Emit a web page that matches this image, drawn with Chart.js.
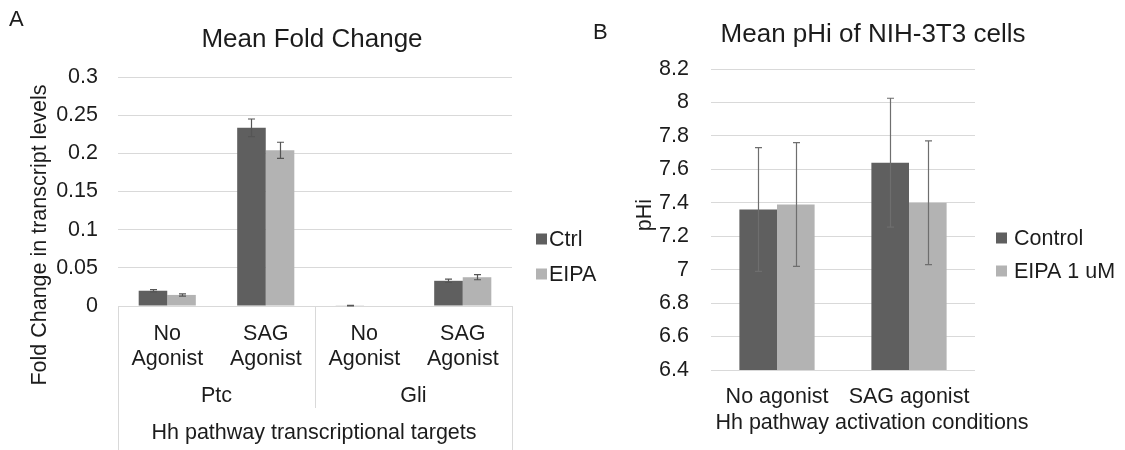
<!DOCTYPE html>
<html>
<head>
<meta charset="utf-8">
<script src="https://cdn.jsdelivr.net/npm/chart.js@4"></script>
<style>
  html, body { margin: 0; padding: 0; background: #fff; }
  #wrap { position: relative; width: 1125px; height: 450px; overflow: hidden; }
  canvas { position: absolute; top: 0; }
  #chartA { left: 0; }
  #chartB { left: 580px; }
</style>
</head>
<body>
<div id="wrap">
  <canvas id="chartA" width="600" height="450"></canvas>
  <canvas id="chartB" width="545" height="450"></canvas>
</div>
<script>
// ---- panel A data ----
const catsA = [['No', 'Agonist'], ['SAG', 'Agonist'], ['No', 'Agonist'], ['SAG', 'Agonist']];
const groupsA = ['Ptc', 'Gli'];
const ctrlA = [0.020, 0.2335, 0.0005, 0.033];
const ctrlErrA = [0.0015, 0.0115, 0.0003, 0.0022];
const eipaA = [0.0145, 0.204, 0, 0.0377];
const eipaErrA = [0.0015, 0.0105, 0, 0.0033];
const yTicksA = ['0', '0.05', '0.1', '0.15', '0.2', '0.25', '0.3'];

// ---- panel B data ----
const catsB = ['No agonist', 'SAG agonist'];
const ctrlB = [7.36, 7.64];
const ctrlErrB = [0.37, 0.385];
const eipaB = [7.39, 7.40];
const eipaErrB = [0.37, 0.37];
const yTicksB = ['6.4', '6.6', '6.8', '7', '7.2', '7.4', '7.6', '7.8', '8', '8.2'];

const FONT = '"Liberation Sans", Arial, Helvetica, sans-serif';
const TEXT = '#1c1c1c';
const DARK = '#5f5f5f';
const LIGHT = '#b3b3b3';
const GRID = '#d9d9d9';

Chart.defaults.font.family = FONT;
Chart.defaults.color = TEXT;

// error bars drawn from dataset.errors through the y scale
const errorBars = {
  id: 'errorBars',
  afterDatasetsDraw(chart, args, opts) {
    const ctx = chart.ctx;
    const y = chart.scales.y;
    ctx.save();
    ctx.strokeStyle = opts.color || '#666';
    ctx.lineWidth = opts.width || 1;
    chart.data.datasets.forEach((ds, di) => {
      const meta = chart.getDatasetMeta(di);
      meta.data.forEach((bar, i) => {
        const e = ds.errors[i];
        if (!e) return;
        const v = ds.data[i];
        const top = y.getPixelForValue(v + e);
        const bot = y.getPixelForValue(v - e);
        const x = Math.round(bar.x) + 0.5;
        ctx.beginPath();
        ctx.moveTo(x, top); ctx.lineTo(x, bot);
        ctx.moveTo(x - 3.5, top); ctx.lineTo(x + 3.5, top);
        ctx.moveTo(x - 3.5, bot); ctx.lineTo(x + 3.5, bot);
        ctx.stroke();
      });
    });
    ctx.restore();
  }
};

// titles, panel letter, axis titles and legend
const decor = {
  id: 'decor',
  afterDraw(chart, args, o) {
    const ctx = chart.ctx;
    ctx.save();
    ctx.fillStyle = TEXT;
    ctx.textBaseline = 'middle';
    ctx.font = '22px ' + FONT;
    ctx.textAlign = 'left';
    ctx.fillText(o.letter, o.letterX, o.letterY);
    ctx.font = '26px ' + FONT;
    ctx.textAlign = 'center';
    ctx.fillText(o.title, o.titleX, o.titleY);
    ctx.font = '21.5px ' + FONT;
    ctx.fillText(o.xTitle, o.xTitleX, o.xTitleY);
    ctx.save();
    ctx.translate(o.yTitleX, o.yTitleY);
    ctx.rotate(-Math.PI / 2);
    ctx.fillText(o.yTitle, 0, 0);
    ctx.restore();
    // legend
    ctx.textAlign = 'left';
    chart.data.datasets.forEach((ds, i) => {
      const cy = o.legendY + i * o.legendGap;
      ctx.fillStyle = ds.backgroundColor;
      ctx.fillRect(o.legendX, cy - 5.5, 11, 11);
      ctx.fillStyle = TEXT;
      ctx.fillText(ds.label, o.legendX + o.legendText, cy + 1);
    });
    ctx.restore();
  }
};

// second-level category labels and separators for panel A
const groupAxis = {
  id: 'groupAxis',
  afterDraw(chart) {
    const ctx = chart.ctx;
    const x = chart.scales.x;
    const area = chart.chartArea;
    const per = catsA.length / groupsA.length;
    ctx.save();
    ctx.strokeStyle = GRID;
    ctx.lineWidth = 1;
    const line = (px, y1, y2) => {
      ctx.beginPath();
      ctx.moveTo(Math.round(px) + 0.5, y1);
      ctx.lineTo(Math.round(px) + 0.5, y2);
      ctx.stroke();
    };
    line(area.left, area.bottom, 450);
    line(area.right, area.bottom, 450);
    ctx.fillStyle = TEXT;
    ctx.font = '21.5px ' + FONT;
    ctx.textAlign = 'center';
    ctx.textBaseline = 'middle';
    groupsA.forEach((g, gi) => {
      const first = gi * per;
      const last = first + per - 1;
      const l = first === 0 ? area.left : (x.getPixelForValue(first - 1) + x.getPixelForValue(first)) / 2;
      const r = last === catsA.length - 1 ? area.right : (x.getPixelForValue(last) + x.getPixelForValue(last + 1)) / 2;
      if (gi > 0) line(l, area.bottom, 408);
      ctx.fillText(g, (l + r) / 2, 396);
    });
    ctx.restore();
  }
};

function makeOptions(cfg) {
  return {
    responsive: false,
    animation: false,
    devicePixelRatio: 1,
    layout: { padding: { top: cfg.top, right: cfg.right, left: 0, bottom: 0 } },
    plugins: {
      legend: { display: false },
      title: { display: false },
      tooltip: { enabled: false },
      errorBars: { color: cfg.errColor, width: 1.2 },
      decor: cfg.decor
    },
    scales: {
      x: {
        grid: { display: false },
        border: { display: false },
        ticks: {
          font: { size: 21.5, lineHeight: cfg.lineHeight },
          color: TEXT,
          padding: cfg.xPad,
          maxRotation: 0,
          autoSkip: false
        },
        afterFit(s) { s.height = cfg.xHeight; }
      },
      y: {
        min: cfg.min,
        max: cfg.max,
        grid: { color: GRID, lineWidth: 1, drawTicks: false },
        border: { display: false },
        ticks: {
          stepSize: cfg.step,
          font: { size: 21.5 },
          color: TEXT,
          padding: cfg.yPad,
          callback: (v, i) => cfg.tickLabels[i]
        },
        afterFit(s) { s.width = cfg.yWidth; }
      }
    }
  };
}

new Chart(document.getElementById('chartA'), {
  type: 'bar',
  data: {
    labels: catsA,
    datasets: [
      { label: 'Ctrl', data: ctrlA, errors: ctrlErrA, backgroundColor: DARK,
        barPercentage: 1, categoryPercentage: 0.58 },
      { label: 'EIPA', data: eipaA, errors: eipaErrA, backgroundColor: LIGHT,
        barPercentage: 1, categoryPercentage: 0.58 }
    ]
  },
  options: makeOptions({
    top: 77, right: 88, yWidth: 118, xHeight: 144,
    min: 0, max: 0.3, step: 0.05, tickLabels: yTicksA,
    yPad: 20, xPad: 7.5, lineHeight: '25px', errColor: '#555555',
    decor: {
      letter: 'A', letterX: 9, letterY: 20,
      title: 'Mean Fold Change', titleX: 312, titleY: 40,
      xTitle: 'Hh pathway transcriptional targets', xTitleX: 314, xTitleY: 433,
      yTitle: 'Fold Change in transcript levels', yTitleX: 40, yTitleY: 235,
      legendX: 536, legendY: 239, legendGap: 35, legendText: 13
    }
  }),
  plugins: [errorBars, groupAxis, decor]
});

new Chart(document.getElementById('chartB'), {
  type: 'bar',
  data: {
    labels: catsB,
    datasets: [
      { label: 'Control', data: ctrlB, errors: ctrlErrB, backgroundColor: DARK,
        barPercentage: 1, categoryPercentage: 0.57 },
      { label: 'EIPA 1 uM', data: eipaB, errors: eipaErrB, backgroundColor: LIGHT,
        barPercentage: 1, categoryPercentage: 0.57 }
    ]
  },
  options: makeOptions({
    top: 69, right: 150, yWidth: 131, xHeight: 80,
    min: 6.4, max: 8.2, step: 0.2, tickLabels: yTicksB,
    yPad: 22, xPad: 6, lineHeight: 1.2, errColor: '#6e6e6e',
    decor: {
      letter: 'B', letterX: 13, letterY: 33,
      title: 'Mean pHi of NIH-3T3 cells', titleX: 293, titleY: 35,
      xTitle: 'Hh pathway activation conditions', xTitleX: 292, xTitleY: 423,
      yTitle: 'pHi', yTitleX: 65, yTitleY: 215,
      legendX: 416, legendY: 238, legendGap: 33, legendText: 18
    }
  }),
  plugins: [errorBars, decor]
});
</script>
</body>
</html>
